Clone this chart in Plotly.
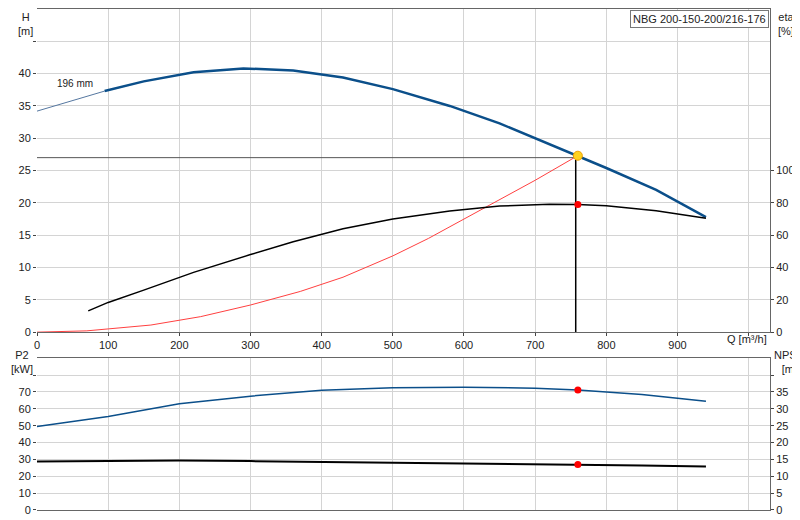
import plotly.graph_objects as go

# pump curve H (m)
q_h = [0, 95, 150, 220, 290, 360, 430, 500, 580, 650, 700, 760, 800, 870, 940]
h = [34.2, 37.3, 38.8, 40.2, 40.8, 40.5, 39.4, 37.6, 35.0, 32.3, 30.0, 27.3, 25.4, 22.0, 17.8]
# efficiency (%)
q_eta = [72, 100, 150, 220, 300, 360, 430, 500, 580, 650, 720, 760, 800, 870, 940]
eta = [13.2, 18.4, 26, 37, 48, 56, 64, 70, 75, 78, 79.2, 79, 78.2, 75.2, 70.5]
# system curve H (m)
q_sys = [0, 70, 100, 160, 230, 300, 370, 430, 500, 550, 600, 650, 700, 755]
h_sys = [0, 0.2, 0.5, 1.1, 2.4, 4.2, 6.3, 8.5, 11.8, 14.5, 17.5, 20.5, 23.5, 27.0]
# power P2 (kW) and NPSH (m)
q_low = [0, 100, 200, 300, 400, 500, 600, 700, 760, 850, 940]
p2 = [49.5, 55.5, 63, 67.5, 71, 72.5, 72.8, 72.2, 71.2, 68.5, 64.5]
npsh = [14.4, 14.6, 14.7, 14.5, 14.3, 14.1, 13.9, 13.6, 13.5, 13.2, 12.9]
duty_q, duty_h, duty_eta, duty_p2, duty_npsh = 760, 27.3, 79, 71.2, 13.5

blue = "#0b4f8a"
fig = go.Figure()
fig.add_trace(go.Scatter(x=q_h[:2], y=h[:2], mode="lines", line=dict(color="#5577a0", width=1)))
fig.add_trace(go.Scatter(x=q_h[1:], y=h[1:], mode="lines", line=dict(color=blue, width=2.5)))
fig.add_trace(go.Scatter(x=q_sys, y=h_sys, mode="lines", line=dict(color="#ff4040", width=1)))
fig.add_trace(go.Scatter(x=[0, duty_q], y=[27, 27], mode="lines", line=dict(color="#555", width=1)))
fig.add_trace(go.Scatter(x=[757, 757], y=[0, 27], mode="lines", line=dict(color="black", width=1.5)))
fig.add_trace(go.Scatter(x=[duty_q], y=[duty_h], mode="markers",
                         marker=dict(color="#ffd21f", size=9, line=dict(color="#f0a000", width=1))))
fig.add_trace(go.Scatter(x=q_eta, y=eta, yaxis="y2", mode="lines", line=dict(color="black", width=1.5)))
fig.add_trace(go.Scatter(x=[duty_q], y=[duty_eta], yaxis="y2", mode="markers", marker=dict(color="red", size=7)))
fig.add_trace(go.Scatter(x=q_low, y=p2, xaxis="x2", yaxis="y3", mode="lines", line=dict(color=blue, width=1.5)))
fig.add_trace(go.Scatter(x=q_low, y=npsh, xaxis="x2", yaxis="y4", mode="lines", line=dict(color="black", width=2)))
fig.add_trace(go.Scatter(x=[duty_q], y=[duty_p2], xaxis="x2", yaxis="y3", mode="markers", marker=dict(color="red", size=7)))
fig.add_trace(go.Scatter(x=[duty_q], y=[duty_npsh], xaxis="x2", yaxis="y4", mode="markers", marker=dict(color="red", size=7)))

grid = "#d4d4d4"
xcommon = dict(range=[0, 1030], tickvals=list(range(0, 1001, 100)), showgrid=True, gridcolor=grid,
               showline=True, linecolor="#666", mirror=True, zeroline=False, automargin=False)
fig.update_layout(
    width=800, height=520, showlegend=False, plot_bgcolor="white", paper_bgcolor="white",
    margin=dict(l=29, r=38, t=1, b=18),
    font=dict(family="Liberation Sans, Arial", size=11, color="#222"),
    xaxis=dict(domain=[0, 1], anchor="y", ticktext=[str(v) for v in range(0, 901, 100)] + [""],
               ticks="outside", ticklen=3, **xcommon),
    yaxis=dict(domain=[0.355, 1], range=[0, 50], tickvals=list(range(0, 46, 5)),
               ticktext=[str(v) for v in range(0, 41, 5)] + [""], showgrid=True, gridcolor=grid,
               zeroline=False, ticks="outside", ticklen=3, automargin=False),
    yaxis2=dict(overlaying="y", side="right", range=[0, 200], tickvals=list(range(0, 101, 20)),
                showgrid=False, zeroline=False, ticks="outside", ticklen=3, showline=True,
                linecolor="#666", automargin=False),
    xaxis2=dict(domain=[0, 1], anchor="y3", ticktext=[""] * 11, ticks="", **xcommon),
    yaxis3=dict(domain=[0, 0.303], range=[0, 90], tickvals=list(range(0, 81, 10)),
                ticktext=[str(v) for v in range(0, 71, 10)] + [""], showgrid=True, gridcolor=grid,
                zeroline=False, ticks="outside", ticklen=3, automargin=False),
    yaxis4=dict(overlaying="y3", side="right", range=[0, 45], tickvals=list(range(0, 41, 5)),
                ticktext=[str(v) for v in range(0, 36, 5)] + [""], showgrid=False, zeroline=False,
                ticks="outside", ticklen=3, showline=True, linecolor="#666", anchor="x2",
                automargin=False),
)
ann = [
    dict(x=-0.028, y=1.0, text="H<br>[m]", xanchor="left", yanchor="top"),
    dict(x=1.008, y=1.0, text="eta<br>[%]", xanchor="left", yanchor="top"),
    dict(x=-0.038, y=0.325, text="P2<br>[kW]", xanchor="left", yanchor="top"),
    dict(x=1.05, y=0.325, text="NPSH<br>[m]", xanchor="right", yanchor="top"),
    dict(x=0.998, y=0.342, text="Q [m³/h]", xanchor="right", yanchor="middle"),
]
for a in ann:
    fig.add_annotation(xref="paper", yref="paper", showarrow=False, align="center", **a)
fig.add_annotation(x=25, y=38.5, text="196 mm", showarrow=False, xanchor="left", font=dict(size=10))
fig.add_annotation(xref="paper", yref="paper", x=0.998, y=0.998, text="NBG 200-150-200/216-176",
                   showarrow=False, xanchor="right", yanchor="top", bgcolor="white",
                   bordercolor="#777", borderwidth=1, borderpad=2)
fig.write_html("out.html")
